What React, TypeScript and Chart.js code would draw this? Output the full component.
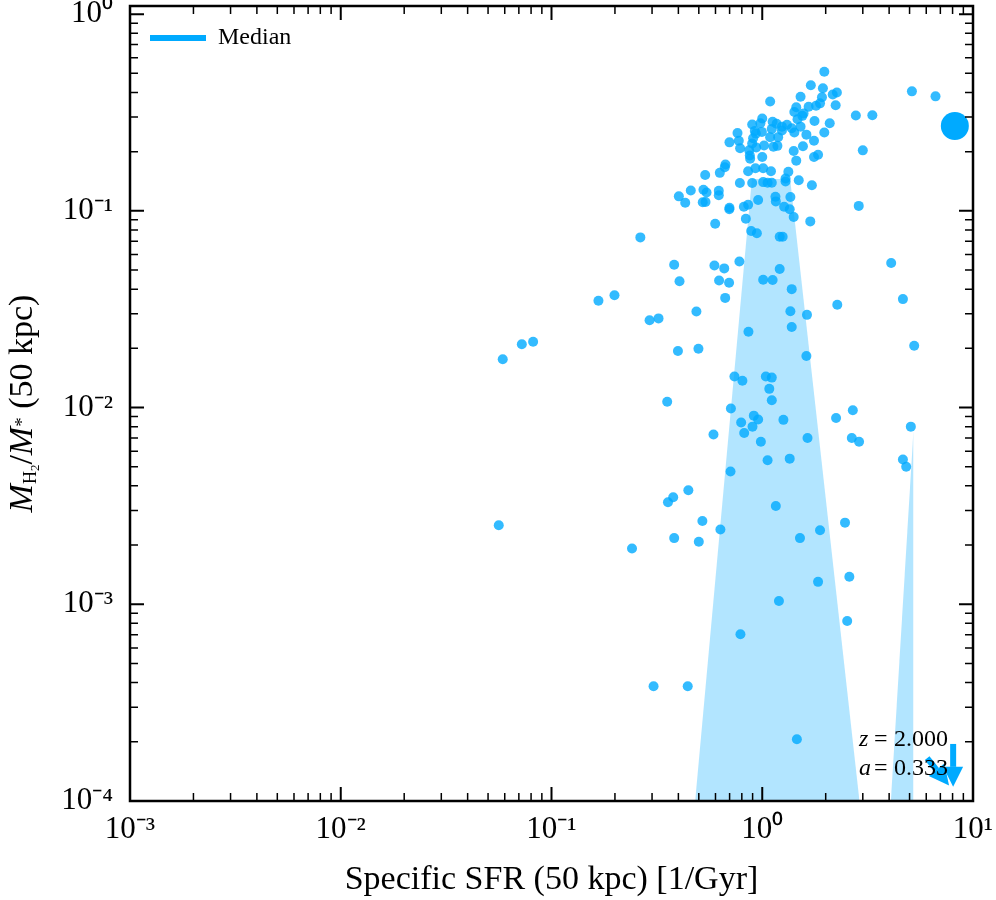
import React, { useEffect, useRef } from "react";
import { Chart, registerables } from "chart.js";

Chart.register(...registerables);

const FONT = "Liberation Serif";

// axis ranges and decades for tick labels
const X_MIN = 1e-3;
const X_MAX = 10;
const Y_MIN = 1e-4;
const Y_MAX = 1.1;
const xDecades = [-3, -2, -1, 0, 1];
const yDecades = [-4, -3, -2, -1, 0];

// galaxies: specific SFR [1/Gyr] and H2 fraction
const sfrValues = [
  1.97, 1.7, 1.94, 2.16, 2.26, 1.52, 1.09, 1.92, 2.23, 1.88,
  1.8, 1.66, 1.45, 1.42, 1.57, 1.55, 2.78, 3.33, 1.77, 2.09,
  1.97, 1.47, 1.52, 1.42, 1.38, 1.31, 1.24, 1.24, 1.17, 1.12,
  1.11, 1.0, 0.98, 0.896, 0.763, 0.922, 0.932, 0.996, 1.09, 1.19,
  1.18, 1.13, 1.02, 0.936, 0.896, 0.905, 0.699, 0.774, 0.785, 0.867,
  0.873, 0.876, 1.62, 1.76, 1.56, 1.41, 1.45, 1.76, 1.84, 3.0,
  1.0, 0.669, 0.664, 0.536, 0.629, 0.857, 0.928, 1.01, 1.1, 1.33,
  1.29, 1.29, 1.49, 1.72, 0.783, 0.896, 1.01, 1.06, 1.11, 0.458,
  0.526, 0.544, 0.622, 0.402, 0.431, 0.522, 0.538, 0.622, 0.956, 1.155,
  1.16, 1.36, 0.699, 0.698, 0.818, 0.857, 1.27, 1.35, 2.87, 0.836,
  1.41, 0.598, 1.69, 0.886, 0.943, 1.21, 1.25, 0.264, 5.13, 6.64,
  0.382, 0.405, 0.593, 0.66, 0.624, 0.696, 0.779, 0.667, 1.21, 1.01,
  1.12, 1.38, 1.36, 1.63, 1.38, 4.09, 4.65, 2.27, 5.26, 0.167,
  0.199, 0.292, 0.322, 0.487, 0.86, 0.398, 0.498, 1.62, 0.738, 0.805,
  1.04, 1.11, 1.08, 1.11, 0.354, 0.71, 0.912, 0.956, 0.899, 0.794,
  0.821, 1.26, 1.64, 0.985, 0.587, 2.24, 2.69, 2.66, 2.88, 5.07,
  4.65, 4.82, 1.35, 1.06, 0.707, 0.446, 0.357, 0.378, 1.16, 0.52,
  2.47, 0.633, 1.88, 0.382, 0.5, 0.241, 1.51, 1.84, 2.59, 1.2,
  2.53, 0.788, 0.305, 0.443, 1.46, 0.0818, 0.0723, 0.0587, 0.0562,
];
const h2Fractions = [
  0.51, 0.435, 0.42, 0.39, 0.4, 0.38, 0.36, 0.378, 0.344, 0.352,
  0.342, 0.338, 0.336, 0.318, 0.313, 0.304, 0.305, 0.306, 0.286, 0.279,
  0.25, 0.292, 0.268, 0.25, 0.263, 0.274, 0.268, 0.256, 0.277, 0.284,
  0.261, 0.295, 0.279, 0.275, 0.249, 0.255, 0.247, 0.252, 0.237, 0.237,
  0.214, 0.212, 0.215, 0.21, 0.22, 0.234, 0.223, 0.227, 0.208, 0.203,
  0.191, 0.184, 0.244, 0.227, 0.213, 0.2015, 0.18, 0.188, 0.193, 0.203,
  0.188, 0.172, 0.1665, 0.152, 0.156, 0.159, 0.1645, 0.1645, 0.159, 0.158,
  0.146, 0.141, 0.143, 0.135, 0.1385, 0.1385, 0.14, 0.139, 0.139, 0.127,
  0.128, 0.124, 0.1265, 0.1185, 0.11, 0.1105, 0.111, 0.12, 0.1135, 0.118,
  0.1117, 0.1175, 0.1037, 0.1018, 0.105, 0.1074, 0.105, 0.102, 0.106, 0.0912,
  0.093, 0.086, 0.0884, 0.079, 0.0769, 0.0738, 0.0738, 0.0733, 0.405, 0.382,
  0.0532, 0.0439, 0.0528, 0.051, 0.0443, 0.0431, 0.0553, 0.0361, 0.0506, 0.0446,
  0.0445, 0.04, 0.0309, 0.0296, 0.0257, 0.0543, 0.0356, 0.0333, 0.0206, 0.0349,
  0.0372, 0.0278, 0.0284, 0.0308, 0.0243, 0.0194, 0.0199, 0.0183, 0.0144, 0.0137,
  0.0144, 0.0142, 0.01245, 0.0109, 0.0107, 0.0099, 0.0091, 0.0087, 0.008, 0.0084,
  0.00743, 0.00866, 0.007, 0.0067, 0.0073, 0.00886, 0.0097, 0.007, 0.0067, 0.008,
  0.00545, 0.005, 0.0055, 0.0054, 0.00473, 0.0038, 0.0033, 0.0035, 0.00316, 0.00265,
  0.0026, 0.0024, 0.00238, 0.00217, 0.00208, 0.00192, 0.00217, 0.0013, 0.00138, 0.00104,
  0.000823, 0.000704, 0.000383, 0.000383, 0.000206, 0.0216, 0.021, 0.0176, 0.00252,
];

// highlighted galaxy
const mainX = [8.2];
const mainY = [0.27];

// 16-84 band (upper edge, filled down to the axis)
const band1X = [0.4805, 0.893, 1.356, 2.893];
const band1Y = [1e-4, 0.145, 0.145, 1e-4];
const band2X = [4.076, 5.22, 5.22];
const band2Y = [1e-4, 0.00767, 1e-4];

// median (falls outside the plotted range)
const medianX: number[] = [];
const medianY: number[] = [];

// upper-limit arrows, bottom right
const arrowX0 = [8.05, 6.06];
const arrowY0 = [1.95e-4, 1.65e-4];
const arrowX1 = [8.05, 7.7];
const arrowY1 = [1.18e-4, 1.2e-4];

const toPoints = (xs: number[], ys: number[]) => xs.map((x, i) => ({ x, y: ys[i] }));

const logTicks = (decades: number[], min: number, max: number) => {
  const out: number[] = [];
  decades.forEach((d) => {
    for (let k = 1; k <= 9; k++) {
      const v = k * Math.pow(10, d);
      if (v >= min * 0.999 && v <= max * 1.001) out.push(v);
    }
  });
  return out;
};

const isDecade = (v: number) => Math.abs(Math.log10(v) - Math.round(Math.log10(v))) < 1e-6;

const SUP: Record<string, string> = {
  "-": "\u207B", "0": "\u2070", "1": "\u00B9", "2": "\u00B2", "3": "\u00B3",
  "4": "\u2074", "5": "\u2075", "6": "\u2076", "7": "\u2077", "8": "\u2078", "9": "\u2079",
};
const decadeLabel = (v: number) => {
  if (!isDecade(v)) return "";
  const e = String(Math.round(Math.log10(v)));
  return "10" + e.split("").map((c) => SUP[c]).join("");
};

const drawArrow = (ctx: CanvasRenderingContext2D, x0: number, y0: number, x1: number, y1: number) => {
  const ang = Math.atan2(y1 - y0, x1 - x0);
  const head = 20;
  const half = 10;
  const bx = x1 - head * Math.cos(ang);
  const by = y1 - head * Math.sin(ang);
  ctx.beginPath();
  ctx.moveTo(x0, y0);
  ctx.lineTo(bx, by);
  ctx.stroke();
  ctx.beginPath();
  ctx.moveTo(x1, y1);
  ctx.lineTo(bx + half * Math.sin(ang), by - half * Math.cos(ang));
  ctx.lineTo(bx - half * Math.sin(ang), by + half * Math.cos(ang));
  ctx.closePath();
  ctx.fill();
};

const decorPlugin = {
  id: "decor",
  afterDatasetsDraw(chart: any) {
    const { ctx, scales } = chart;
    ctx.save();
    ctx.strokeStyle = "#00aaff";
    ctx.fillStyle = "#00aaff";
    ctx.lineWidth = 6;
    arrowX0.forEach((_, i) => {
      drawArrow(
        ctx,
        scales.x.getPixelForValue(arrowX0[i]),
        scales.y.getPixelForValue(arrowY0[i]),
        scales.x.getPixelForValue(arrowX1[i]),
        scales.y.getPixelForValue(arrowY1[i])
      );
    });
    ctx.restore();
  },
  afterDraw(chart: any) {
    const { ctx, chartArea, scales } = chart;
    const { left, right, top, bottom } = chartArea;
    ctx.save();
    ctx.strokeStyle = "#000";

    // inward ticks on all four sides
    scales.x.ticks.forEach((t: any) => {
      const px = scales.x.getPixelForValue(t.value);
      const major = isDecade(t.value);
      const len = major ? 14 : 8;
      ctx.lineWidth = major ? 2 : 1.5;
      ctx.beginPath();
      ctx.moveTo(px, bottom);
      ctx.lineTo(px, bottom - len);
      ctx.moveTo(px, top);
      ctx.lineTo(px, top + len);
      ctx.stroke();
    });
    scales.y.ticks.forEach((t: any) => {
      const py = scales.y.getPixelForValue(t.value);
      const major = isDecade(t.value);
      const len = major ? 14 : 8;
      ctx.lineWidth = major ? 2 : 1.5;
      ctx.beginPath();
      ctx.moveTo(left, py);
      ctx.lineTo(left + len, py);
      ctx.moveTo(right, py);
      ctx.lineTo(right - len, py);
      ctx.stroke();
    });
    ctx.lineWidth = 2.5;
    ctx.strokeRect(left, top, right - left, bottom - top);

    // y-axis title with sub/superscripts
    const parts = [
      { t: "M", f: `italic 34px "${FONT}"`, dy: 0 },
      { t: "H", f: `18px "${FONT}"`, dy: 4 },
      { t: "2", f: `13px "${FONT}"`, dy: 7 },
      { t: "/", f: `34px "${FONT}"`, dy: 0 },
      { t: "M", f: `italic 34px "${FONT}"`, dy: 0 },
      { t: "*", f: `19px "${FONT}"`, dy: -4 },
      { t: " (50 kpc)", f: `34px "${FONT}"`, dy: 0 },
    ];
    let total = 0;
    const widths = parts.map((p) => {
      ctx.font = p.f;
      const w = ctx.measureText(p.t).width;
      total += w;
      return w;
    });
    ctx.fillStyle = "#000";
    ctx.textBaseline = "alphabetic";
    ctx.textAlign = "left";
    ctx.translate(32, (top + bottom) / 2);
    ctx.rotate(-Math.PI / 2);
    let cx = -total / 2;
    parts.forEach((p, i) => {
      ctx.font = p.f;
      ctx.fillText(p.t, cx, p.dy);
      cx += widths[i];
    });
    ctx.setTransform(1, 0, 0, 1, 0, 0);

    // redshift / scale factor note
    const x0 = right - 114;
    const lines = [
      { v: "z", n: "2.000", y: bottom - 55 },
      { v: "a", n: "0.333", y: bottom - 26 },
    ];
    lines.forEach((l) => {
      ctx.font = `italic 24px "${FONT}"`;
      ctx.fillText(l.v, x0, l.y);
      ctx.font = `24px "${FONT}"`;
      ctx.fillText("=", x0 + 15, l.y);
      ctx.fillText(l.n, x0 + 35, l.y);
    });
    ctx.restore();
  },
};

const App: React.FC = () => {
  const canvasRef = useRef<HTMLCanvasElement>(null);
  const chartRef = useRef<Chart | null>(null);

  useEffect(() => {
    document.body.style.margin = "0";
    if (!canvasRef.current) return;
    const ctx = canvasRef.current.getContext("2d");
    if (!ctx) return;
    if (chartRef.current) chartRef.current.destroy();

    const xTicks = logTicks(xDecades, X_MIN, X_MAX);
    const yTicks = logTicks(yDecades, Y_MIN, Y_MAX);
    const tickFont = { family: FONT, size: 31 };

    chartRef.current = new Chart(ctx, {
      type: "scatter",
      data: {
        datasets: [
          {
            label: "Galaxies",
            data: toPoints(sfrValues, h2Fractions),
            backgroundColor: "rgba(0, 170, 255, 0.8)",
            borderWidth: 0,
            pointRadius: 5,
            pointHoverRadius: 5,
            order: 1,
          },
          {
            label: "Main",
            data: toPoints(mainX, mainY),
            backgroundColor: "#00aaff",
            borderWidth: 0,
            pointRadius: 14,
            pointHoverRadius: 14,
            order: 0,
          },
          {
            type: "line",
            label: "Median",
            data: toPoints(medianX, medianY),
            borderColor: "#00aaff",
            backgroundColor: "#00aaff",
            borderWidth: 5,
            pointRadius: 0,
            order: 2,
          },
          {
            type: "line",
            label: "band1",
            data: toPoints(band1X, band1Y),
            showLine: true,
            fill: "start",
            backgroundColor: "rgba(0, 170, 255, 0.3)",
            borderColor: "transparent",
            borderWidth: 0,
            pointRadius: 0,
            tension: 0,
            order: 3,
          },
          {
            type: "line",
            label: "band2",
            data: toPoints(band2X, band2Y),
            showLine: true,
            fill: "start",
            backgroundColor: "rgba(0, 170, 255, 0.3)",
            borderColor: "transparent",
            borderWidth: 0,
            pointRadius: 0,
            tension: 0,
            order: 3,
          },
        ],
      },
      options: {
        animation: false,
        responsive: false,
        events: [],
        layout: { autoPadding: false, padding: { top: 6, right: 23, bottom: 0, left: 0 } },
        scales: {
          x: {
            type: "logarithmic",
            position: "bottom",
            min: X_MIN,
            max: X_MAX,
            afterBuildTicks: (scale: any) => {
              scale.ticks = xTicks.map((v) => ({ value: v, major: isDecade(v) }));
            },
            afterFit: (scale: any) => {
              scale.height = 99;
              scale.paddingLeft = 0;
              scale.paddingRight = 0;
            },
            grid: { display: false, drawTicks: false },
            border: { display: false },
            ticks: {
              autoSkip: false,
              maxRotation: 0,
              padding: 10,
              color: "#000",
              font: tickFont,
              callback: (v: any) => decadeLabel(Number(v)),
            },
            title: {
              display: true,
              text: "Specific SFR (50 kpc) [1/Gyr]",
              color: "#000",
              font: { family: FONT, size: 34 },
              padding: 0,
            },
          },
          y: {
            type: "logarithmic",
            min: Y_MIN,
            max: Y_MAX,
            afterBuildTicks: (scale: any) => {
              scale.ticks = yTicks.map((v) => ({ value: v, major: isDecade(v) }));
            },
            afterFit: (scale: any) => {
              scale.width = 130;
              scale.paddingTop = 0;
              scale.paddingBottom = 0;
            },
            grid: { display: false, drawTicks: false },
            border: { display: false },
            ticks: {
              autoSkip: false,
              padding: 17,
              color: "#000",
              font: tickFont,
              callback: (v: any) => decadeLabel(Number(v)),
            },
          },
        },
        plugins: {
          tooltip: { enabled: false },
          legend: {
            position: "chartArea",
            align: "start",
            // empty title only used as a spacer above the single entry
            title: { display: true, text: " ", font: { size: 6, lineHeight: 1 }, padding: 0 },
            labels: {
              boxWidth: 56,
              boxHeight: 6,
              padding: 20,
              color: "#000",
              font: { family: FONT, size: 24 },
              generateLabels: (chart: any) =>
                Chart.defaults.plugins.legend.labels
                  .generateLabels(chart)
                  .filter((item: any) => item.text === "Median")
                  .map((item: any) => ({ ...item, lineWidth: 0, fillStyle: "#00aaff", strokeStyle: "#00aaff" })),
            },
          },
        },
      },
      plugins: [decorPlugin],
    } as any);

    return () => {
      if (chartRef.current) {
        chartRef.current.destroy();
        chartRef.current = null;
      }
    };
  }, []);

  return <canvas ref={canvasRef} width={996} height={900} style={{ display: "block" }} />;
};

export default App;
